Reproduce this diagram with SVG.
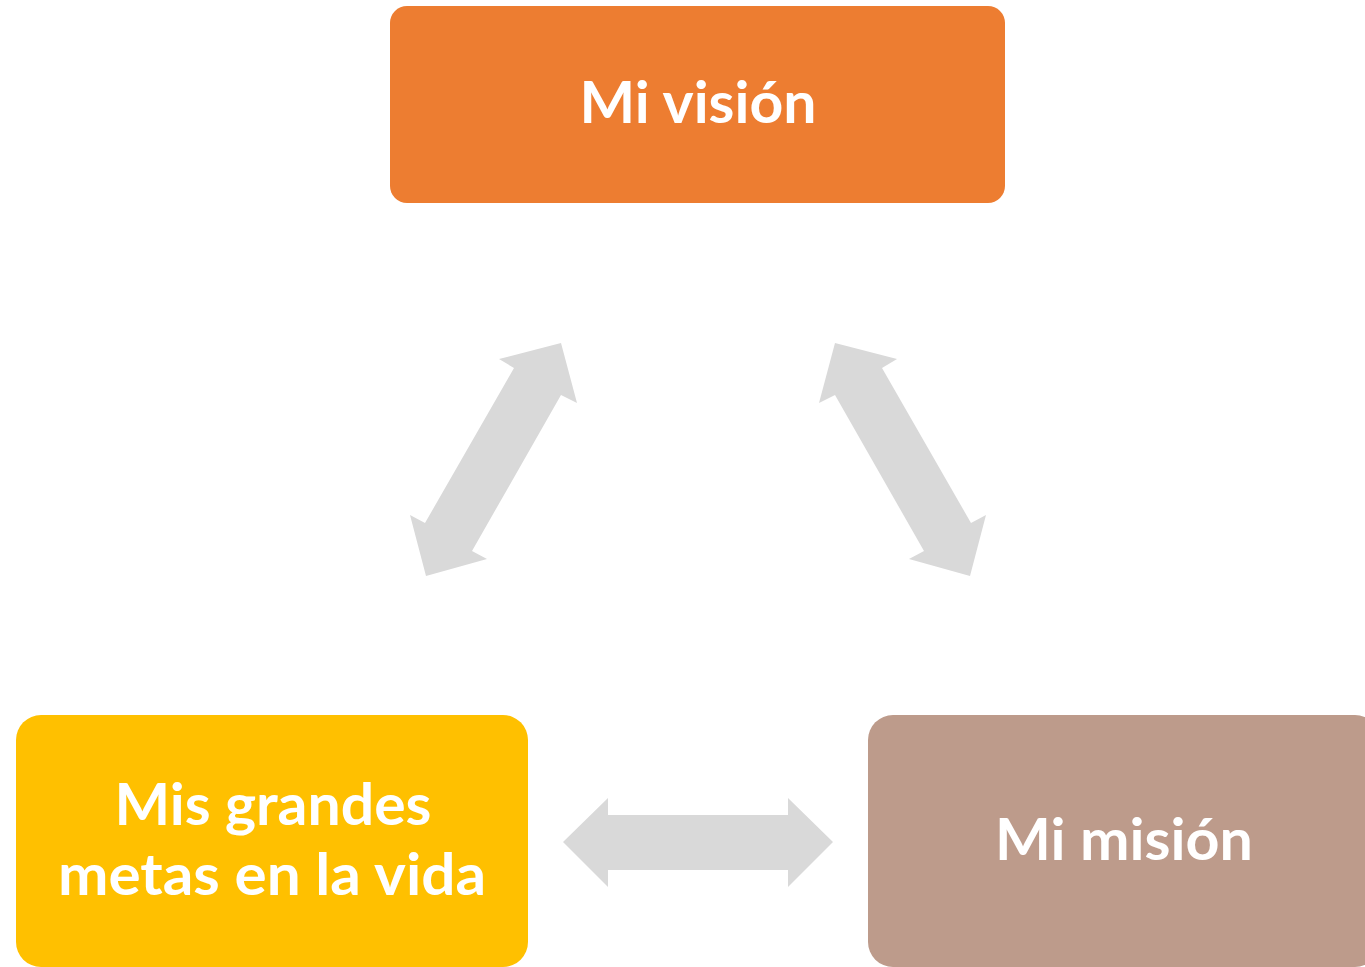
<svg xmlns="http://www.w3.org/2000/svg" width="1365" height="967" viewBox="0 0 1365 967">
<style>
.lbl{font-family:Lato,"Open Sans","Liberation Sans",sans-serif;font-weight:bold;fill:#FFFFFF;text-anchor:middle}
.arr{fill:#D9D9D9}
</style>
<rect width="1365" height="967" fill="#FFFFFF"/>
<g id="connectors">
<polygon class="arr" points="561,343 577,403 561,395 472,551 487,559 426,576 410,515 425,523 514,368 499,359"/>
<polygon class="arr" points="835,343 819,403 835,395 924,551 909,559 970,576 986,515 971,523 882,368 897,359"/>
<polygon class="arr" points="563,842 608,798 608,815 788,815 788,798 833,842 788,887 788,870 608,870 608,887"/>
</g>
<g id="vision">
<rect x="390" y="6" width="615" height="197" rx="17" fill="#ED7D31"/>
<text class="lbl" x="698" y="123" font-size="57" textLength="237" lengthAdjust="spacingAndGlyphs">Mi visión</text>
</g>
<g id="metas">
<rect x="16" y="715" width="512" height="252" rx="25" fill="#FFC000"/>
<text class="lbl" x="273" y="825" font-size="57" textLength="317" lengthAdjust="spacingAndGlyphs">Mis grandes</text>
<text class="lbl" x="272" y="895" font-size="57" textLength="428" lengthAdjust="spacingAndGlyphs">metas en la vida</text>
</g>
<g id="mision">
<rect x="868" y="715" width="512" height="252" rx="25" fill="#BD9B8B"/>
<text class="lbl" x="1124" y="860" font-size="57" textLength="258" lengthAdjust="spacingAndGlyphs">Mi misión</text>
</g>
</svg>
